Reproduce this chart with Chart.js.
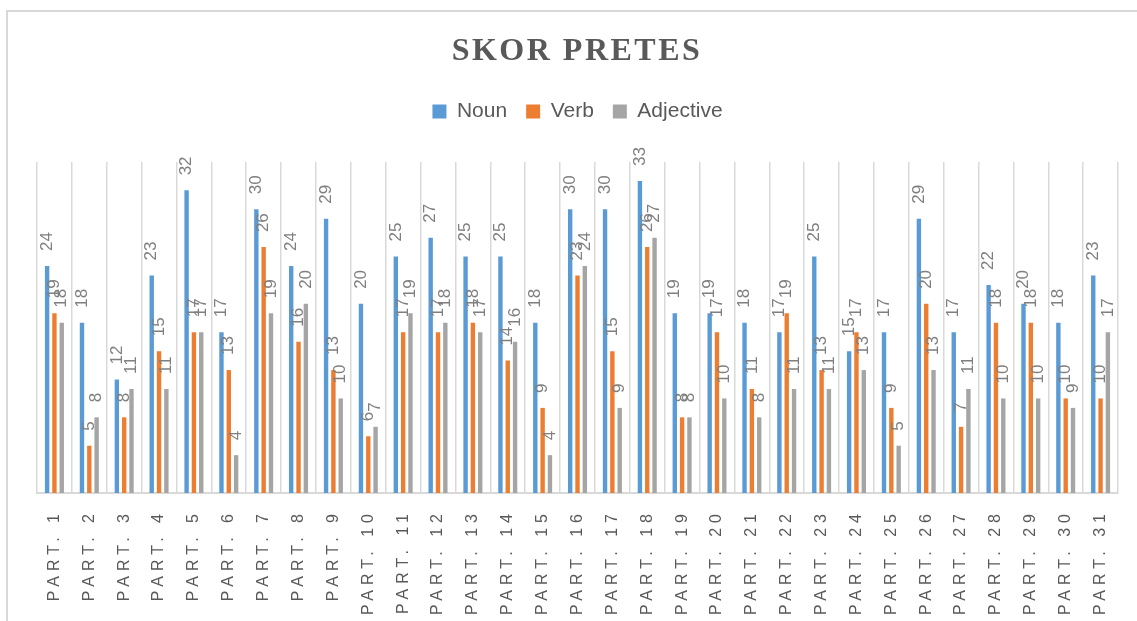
<!DOCTYPE html>
<html>
<head>
<meta charset="utf-8">
<title>Skor Pretes</title>
<script src="https://cdn.jsdelivr.net/npm/chart.js@4.4.1/dist/chart.umd.min.js"></script>
<style>
  html, body {
    margin: 0;
    padding: 0;
    background: #fff;
    overflow: hidden;
  }
  .frame {
    position: absolute;
    left: 6px;
    top: 10px;
    width: 1160px;
    height: 700px;
    border: 2px solid #d9d9d9;
  }
  .chart-wrap {
    position: absolute;
    left: 0;
    top: 0;
    width: 1137px;
    height: 621px;
  }
</style>
</head>
<body>
<div class="frame"></div>
<div class="chart-wrap">
  <canvas id="skorChart" width="1137" height="621"></canvas>
</div>
<script>
const CATEGORIES = [
  'PART. 1', 'PART. 2', 'PART. 3', 'PART. 4', 'PART. 5', 'PART. 6', 'PART. 7', 'PART. 8',
  'PART. 9', 'PART. 10', 'PART. 11', 'PART. 12', 'PART. 13', 'PART. 14', 'PART. 15', 'PART. 16',
  'PART. 17', 'PART. 18', 'PART. 19', 'PART. 20', 'PART. 21', 'PART. 22', 'PART. 23', 'PART. 24',
  'PART. 25', 'PART. 26', 'PART. 27', 'PART. 28', 'PART. 29', 'PART. 30', 'PART. 31'
];

const NOUN = [24, 18, 12, 23, 32, 17, 30, 24, 29, 20, 25, 27, 25, 25, 18, 30, 30, 33, 19, 19, 18, 17, 25, 15, 17, 29, 17, 22, 20, 18, 23];
const VERB = [19, 5, 8, 15, 17, 13, 26, 16, 13, 6, 17, 17, 18, 14, 9, 23, 15, 26, 8, 17, 11, 19, 13, 17, 9, 20, 7, 18, 18, 10, 10];
const ADJECTIVE = [18, 8, 11, 11, 17, 4, 19, 20, 10, 7, 19, 18, 17, 16, 4, 24, 9, 27, 8, 10, 8, 11, 11, 13, 5, 13, 11, 10, 10, 9, 17];

const SERIES_NAMES = ['Noun', 'Verb', 'Adjective'];
const SERIES_COLORS = ['#5b9bd5', '#ed7d31', '#a5a5a5'];

const TEXT_GREY = '#595959';

// value labels above each bar, rotated like in the excel chart
const valueLabels = {
  id: 'valueLabels',
  afterDatasetsDraw: function (chart) {
    const ctx = chart.ctx;
    ctx.save();
    ctx.font = '17px "Liberation Sans", Arial, sans-serif';
    ctx.fillStyle = '#7f7f7f';
    ctx.textAlign = 'left';
    ctx.textBaseline = 'middle';
    chart.data.datasets.forEach(function (ds, di) {
      const meta = chart.getDatasetMeta(di);
      meta.data.forEach(function (bar, i) {
        ctx.save();
        ctx.translate(bar.x, bar.y - 15);
        ctx.rotate(-Math.PI / 2);
        ctx.fillText(String(ds.data[i]), 0, 0);
        ctx.restore();
      });
    });
    ctx.restore();
  }
};

// category labels, vertical and letter spaced
const partLabels = {
  id: 'partLabels',
  afterDraw: function (chart) {
    const ctx = chart.ctx;
    const xScale = chart.scales.x;
    ctx.save();
    ctx.font = '16px "Liberation Sans", Arial, sans-serif';
    ctx.fillStyle = TEXT_GREY;
    ctx.textAlign = 'right';
    ctx.textBaseline = 'middle';
    ctx.letterSpacing = '5px';
    chart.data.labels.forEach(function (label, i) {
      ctx.save();
      ctx.translate(xScale.getPixelForValue(i), xScale.bottom + 16);
      ctx.rotate(-Math.PI / 2);
      ctx.fillText(label, 0, 0);
      ctx.restore();
    });
    ctx.restore();
  }
};

// spaced title
const spacedTitle = {
  id: 'spacedTitle',
  afterDraw: function (chart) {
    const ctx = chart.ctx;
    ctx.save();
    ctx.font = 'bold 32px "Liberation Serif", "Times New Roman", serif';
    ctx.fillStyle = TEXT_GREY;
    ctx.textAlign = 'center';
    ctx.textBaseline = 'middle';
    ctx.letterSpacing = '2.5px';
    ctx.fillText('SKOR PRETES', 577, 52);
    ctx.restore();
  }
};

const datasets = [NOUN, VERB, ADJECTIVE].map(function (values, i) {
  return {
    label: SERIES_NAMES[i],
    data: values,
    backgroundColor: SERIES_COLORS[i],
    borderWidth: 0,
    categoryPercentage: 0.63,
    barPercentage: 0.6
  };
});

new Chart(document.getElementById('skorChart'), {
  type: 'bar',
  data: {
    labels: CATEGORIES,
    datasets: datasets
  },
  options: {
    responsive: false,
    animation: false,
    layout: {
      padding: { left: 37, right: 19, top: 82, bottom: 128 }
    },
    plugins: {
      // empty title used only as a gap between legend and plot
      title: {
        display: true,
        text: '',
        weight: 500,
        font: { size: 10, lineHeight: 1 },
        padding: { top: 20, bottom: 0 }
      },
      tooltip: { enabled: false },
      legend: {
        position: 'top',
        labels: {
          boxWidth: 14,
          boxHeight: 14,
          padding: 19,
          color: TEXT_GREY,
          font: { family: '"Liberation Sans", Arial, sans-serif', size: 21 }
        }
      }
    },
    scales: {
      x: {
        ticks: { display: false },
        grid: {
          color: '#d9d9d9',
          lineWidth: 1.5,
          drawTicks: false,
          offset: true
        },
        border: { color: '#d9d9d9', width: 2 }
      },
      y: {
        display: false,
        min: 0,
        max: 35
      }
    }
  },
  plugins: [valueLabels, partLabels, spacedTitle]
});
</script>
</body>
</html>
